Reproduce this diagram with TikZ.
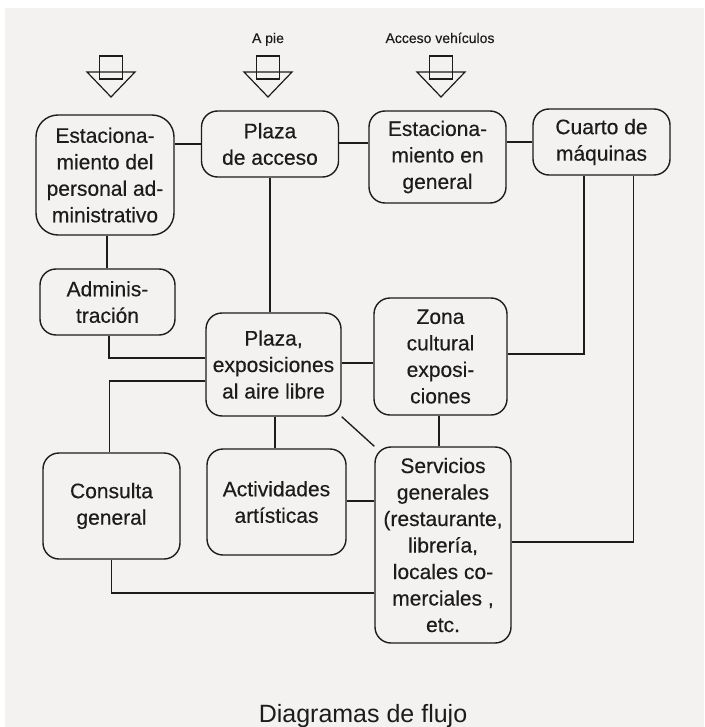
\documentclass[tikz,border=0pt]{standalone}
\usepackage{fontspec}
\setmainfont{Liberation Sans}
\newfontfamily\heavy[FakeBold=0.35]{Liberation Sans}
\usetikzlibrary{calc}
\definecolor{bg}{HTML}{F4F2F0}
\definecolor{ink}{HTML}{1C1C1C}
\tikzset{
  box/.style={draw=ink, line width=1.4pt, rounded corners=16pt, rectangle,
    align=center, inner sep=0pt, font=\heavy\fontsize{21}{26.5}\selectfont, text=ink},
  conn/.style={draw=ink, line width=1.35pt},
  entrada/.pic={
    \draw[ink, line width=1.2pt] (-24,0) -- (24,0) -- (0,25) -- cycle;
    \draw[ink, line width=1.2pt] (-11.5,-16) rectangle (11.5,7);
  },
  small/.style={font=\heavy\fontsize{14}{16}\selectfont, text=ink, inner sep=0pt, anchor=base}
}
\begin{document}
\begin{tikzpicture}[x=1pt,y=-1pt]
\useasboundingbox (0,0) rectangle (704,727);
\fill[white] (0,0) rectangle (704,727);
\fill[bg] (5,8) rectangle (704,727);

% entry arrows
\pic at (111,72) {entrada};
\pic at (268,72) {entrada};
\pic at (441,72) {entrada};
\node[small] (apie) at (268,43) {A pie};
\node[small] (veh) at (440,43) {Acceso vehículos};

% boxes
\node[box, rounded corners=22pt, minimum width=138pt, minimum height=120pt] (b1) at (105,175)
  {Estaciona-\\miento del\\personal ad-\\ministrativo};
\node[box, minimum width=137pt, minimum height=66pt] (b2) at (270,144) {Plaza\\de acceso};
\node[box, minimum width=137pt, minimum height=92pt] (b3) at (437.5,157) {Estaciona-\\miento en\\general};
\node[box, minimum width=137pt, minimum height=66pt] (b4) at (601.5,142) {Cuarto de\\máquinas};
\node[box, minimum width=135pt, minimum height=66pt] (b5) at (107.5,302) {Adminis-\\tración};
\node[box, minimum width=135pt, minimum height=103pt] (b6) at (273.5,364.5) {Plaza,\\exposiciones\\al aire libre};
\node[box, minimum width=133pt, minimum height=117pt] (b7) at (440.5,356.5) {Zona\\cultural\\exposi-\\ciones};
\node[box, minimum width=137pt, minimum height=106pt] (b8) at (111.5,506) {Consulta\\general};
\node[box, minimum width=139pt, minimum height=106pt] (b9) at (276.5,502) {Actividades\\artísticas};
\node[box, minimum width=136pt, minimum height=196pt] (b10) at (443,545)
  {Servicios\\generales\\(restaurante,\\librería,\\locales co-\\merciales ,\\etc.};

% connectors
\draw[conn] (b1.east |- b2.west) -- (b2.west);
\draw[conn] ($(b2.east)+(0,-1)$) -- ($(b2.east -| b3.west)+(0,-1)$);
\draw[conn] (b3.east |- b4.west) -- (b4.west);
\draw[conn] ($(b1.south)+(2,0)$) -- ($(b1.south |- b5.north)+(2,0)$);
\draw[conn] (b2.south) -- (b2.south |- b6.north);
\draw[conn] ($(b5.south)+(1.5,0)$) |- ($(b6.west)+(0,-6.5)$);
\draw[conn] ($(b6.west)+(0,16.5)$) -| ($(b8.north)+(-2,0)$);
\draw[conn] ($(b6.east)+(0,-1.5)$) -- ($(b6.east -| b7.west)+(0,-1.5)$);
\draw[conn] ($(b7.east)+(0,-2.5)$) -| ($(b4.south)+(-17.5,0)$);
\draw[conn] ($(b4.south)+(32,0)$) |- ($(b10.east)+(0,-3)$);
\draw[conn] ($(b6.south)+(1.5,0)$) -- ($(b6.south |- b9.north)+(1.5,0)$);
\draw[conn] (b6.south east) -- (b10.north west);
\draw[conn] ($(b7.south)+(-1.5,0)$) -- ($(b7.south |- b10.north)+(-1.5,0)$);
\draw[conn] ($(b9.east)+(0,-1)$) -- ($(b9.east -| b10.west)+(0,-1)$);
\draw[conn] (b8.south) |- ($(b10.west)+(0,48)$);

% title
\node[anchor=base, inner sep=0pt, font=\fontsize{25}{30}\selectfont, text=ink] (title) at (363,722) {Diagramas de flujo};
\end{tikzpicture}
\end{document}
